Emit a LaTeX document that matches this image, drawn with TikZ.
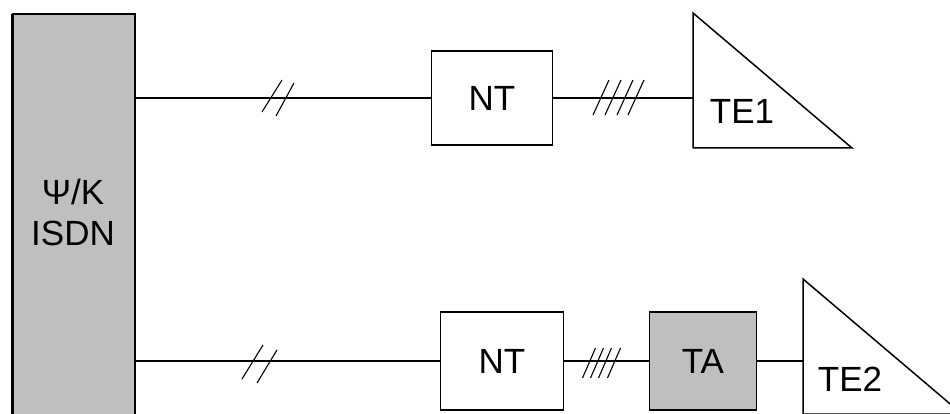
\documentclass[tikz,border=0pt]{standalone}
\usepackage{fontspec}
\setmainfont{Liberation Sans}
\usetikzlibrary{positioning}

\tikzset{
  box/.style={draw, line width=1.5pt, fill=white, inner sep=0pt},
  greybox/.style={box, fill=gray!50},
  wire/.style={line width=1.5pt},
  tick/.style={line width=1.1pt},
  lbl/.style={font=\fontsize{35}{41}\selectfont, align=center}
}

\begin{document}
\begin{tikzpicture}[x=1pt, y=-1pt]
    \clip (0,0) rectangle (950,414);
    \fill[white] (0,0) rectangle (950,414);

    % Exchange
    \node[greybox, minimum width=122pt, minimum height=430pt, anchor=north west] (isdn) at (12,14) {};
    \draw[line width=3pt] (isdn.north west) -- (isdn.south west);
    \draw[line width=2.5pt] (isdn.north west) -- (isdn.north east);
    \node[lbl] (isdnlabel) at (73,212) {Ψ/K\\ISDN};

    % Upper line
    \node[box, lbl, minimum width=121pt, minimum height=94pt] (nt1) at (492,98) {NT};
    \coordinate (te1) at (693,13);
    \draw[line width=1.5pt] (te1) -- ++(0,135) -- ++(159,0) -- cycle;
    \node[lbl] (te1label) at (742,111) {TE1};
    \draw[wire] (nt1.west -| isdn.east) -- (nt1.west);
    \draw[wire] (nt1.east) -- (nt1.east -| te1);

    % Lower line
    \node[box, lbl, minimum width=123pt, minimum height=98pt] (nt2) at (502,361) {NT};
    \node[greybox, lbl, minimum width=107pt, minimum height=98pt] (ta) at (703,361) {TA};
    \coordinate (te2) at (803,279);
    \draw[line width=1.5pt] (te2) -- ++(0,135) -- ++(159,0) -- cycle;
    \node[lbl] (te2label) at (850,379) {TE2};
    \draw[wire] (nt2.west -| isdn.east) -- (nt2.west);
    \draw[wire] (nt2.east) -- (ta.west);
    \draw[wire] (ta.east) -- (ta.east -| te2);

    % Line markers
    \draw[tick] (262,112) -- (282,80);
    \draw[tick] (276,116) -- (294,83);
    \foreach \x in {601,613,625,636}
        \draw[tick] (\x-8,115) -- (\x+8,80);
    \draw[tick] (242,379) -- (263,345);
    \draw[tick] (257,383) -- (277,350);
    \foreach \x in {589,597,605,614}
        \draw[tick] (\x-6.5,378) -- (\x+6.5,348);
\end{tikzpicture}
\end{document}
